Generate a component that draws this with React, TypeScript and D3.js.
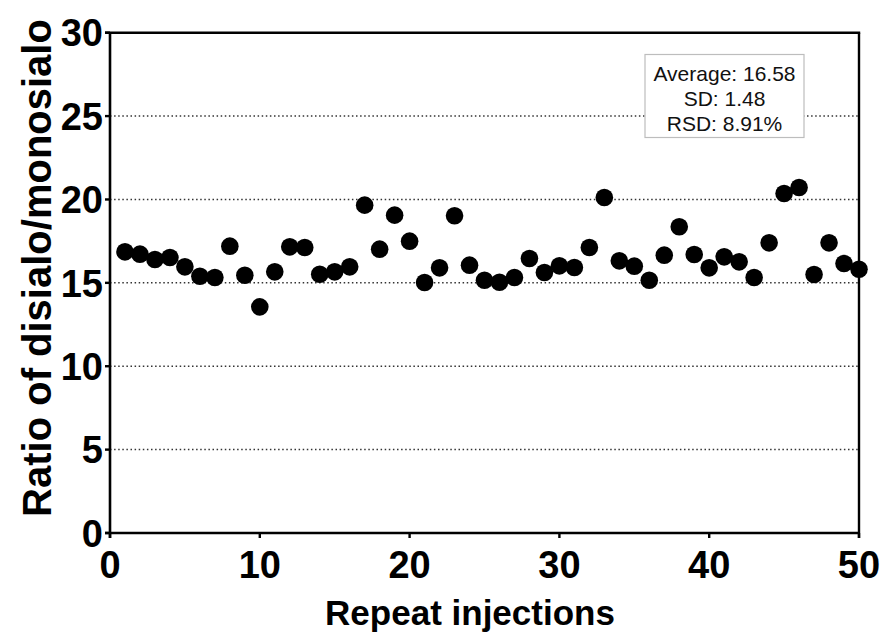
import React from "react";
import * as d3 from "d3";

const injections: number[] = Array.from({ length: 50 }, (_, i) => i + 1);
const ratios: number[] = [
  16.86, 16.72, 16.4, 16.52, 15.96, 15.4, 15.32, 17.2, 15.46, 13.56,
  15.66, 17.16, 17.12, 15.52, 15.66, 15.96, 19.66, 17.02, 19.06, 17.5,
  15.02, 15.9, 19.02, 16.06, 15.16, 15.04, 15.32, 16.46, 15.62, 16.02,
  15.92, 17.12, 20.12, 16.32, 16.0, 15.16, 16.66, 18.36, 16.7, 15.9,
  16.56, 16.26, 15.32, 17.4, 20.36, 20.72, 15.5, 17.4, 16.16, 15.82,
];
const xTicks: number[] = [0, 10, 20, 30, 40, 50];
const yTicks: number[] = [0, 5, 10, 15, 20, 25, 30];
const gridValues: number[] = [5, 10, 15, 20, 25];
const statLines: string[] = ["Average: 16.58", "SD: 1.48", "RSD: 8.91%"];
const xTitle = "Repeat injections";
const yTitle = "Ratio of disialo/monosialo";

const W = 881;
const H = 633;
const FONT = "Arial, 'Liberation Sans', Helvetica, sans-serif";

export default function App() {
  const x = d3.scaleLinear().domain([0, 50]).range([110, 859]);
  const y = d3.scaleLinear().domain([0, 30]).range([533, 32.7]);
  const [x0, x1] = x.range();
  const [y0, y1] = y.range();

  return (
    <svg
      width={W}
      height={H}
      viewBox={`0 0 ${W} ${H}`}
      style={{ position: "absolute", left: 0, top: 0, display: "block", background: "#fff" }}
    >
      <rect x={0} y={0} width={W} height={H} fill="#fff" />
      {gridValues.map((v) => (
        <line
          key={"g" + v}
          x1={x0}
          x2={x1}
          y1={y(v)}
          y2={y(v)}
          stroke="#333"
          strokeWidth={1.5}
          strokeDasharray="1.5,2.6"
        />
      ))}
      <rect x={645} y={54.5} width={159} height={83} fill="#fff" stroke="#bdbdbd" strokeWidth={1.2} />
      {statLines.map((s, i) => (
        <text
          key={s}
          x={724.5}
          y={81 + i * 25}
          textAnchor="middle"
          fontFamily={FONT}
          fontSize={21}
          fill="#111"
        >
          {s}
        </text>
      ))}
      {injections.map((d, i) => (
        <circle key={"p" + d} cx={x(d)} cy={y(ratios[i])} r={8.8} fill="#000" />
      ))}
      <line x1={x0} x2={x0} y1={y1} y2={y0 + 5} stroke="#000" strokeWidth={2.6} />
      <line x1={x0 - 5} x2={x1} y1={y0} y2={y0} stroke="#000" strokeWidth={2.6} />
      <line x1={x0 - 5} x2={x1 + 1.2} y1={y1} y2={y1} stroke="#000" strokeWidth={2.4} />
      <line x1={x1} x2={x1} y1={y1} y2={y0 + 5} stroke="#000" strokeWidth={2.4} />
      {yTicks.map((v) => (
        <g key={"yt" + v}>
          <line x1={x0 - 5} x2={x0} y1={y(v)} y2={y(v)} stroke="#000" strokeWidth={2.4} />
          <text
            x={x0 - 7}
            y={y(v)}
            dy="0.36em"
            textAnchor="end"
            fontFamily={FONT}
            fontWeight="bold"
            fontSize={38}
            fill="#000"
          >
            {v}
          </text>
        </g>
      ))}
      {xTicks.map((v) => (
        <g key={"xt" + v}>
          <line x1={x(v)} x2={x(v)} y1={y0} y2={y0 + 5} stroke="#000" strokeWidth={2.4} />
          <text
            x={x(v)}
            y={578}
            textAnchor="middle"
            fontFamily={FONT}
            fontWeight="bold"
            fontSize={38}
            fill="#000"
          >
            {v}
          </text>
        </g>
      ))}
      <text
        x={470}
        y={625}
        textAnchor="middle"
        fontFamily={FONT}
        fontWeight="bold"
        fontSize={35}
        fill="#000"
      >
        {xTitle}
      </text>
      <text
        transform={`translate(51, 268) rotate(-90)`}
        textAnchor="middle"
        fontFamily={FONT}
        fontWeight="bold"
        fontSize={40}
        fill="#000"
      >
        {yTitle}
      </text>
    </svg>
  );
}
